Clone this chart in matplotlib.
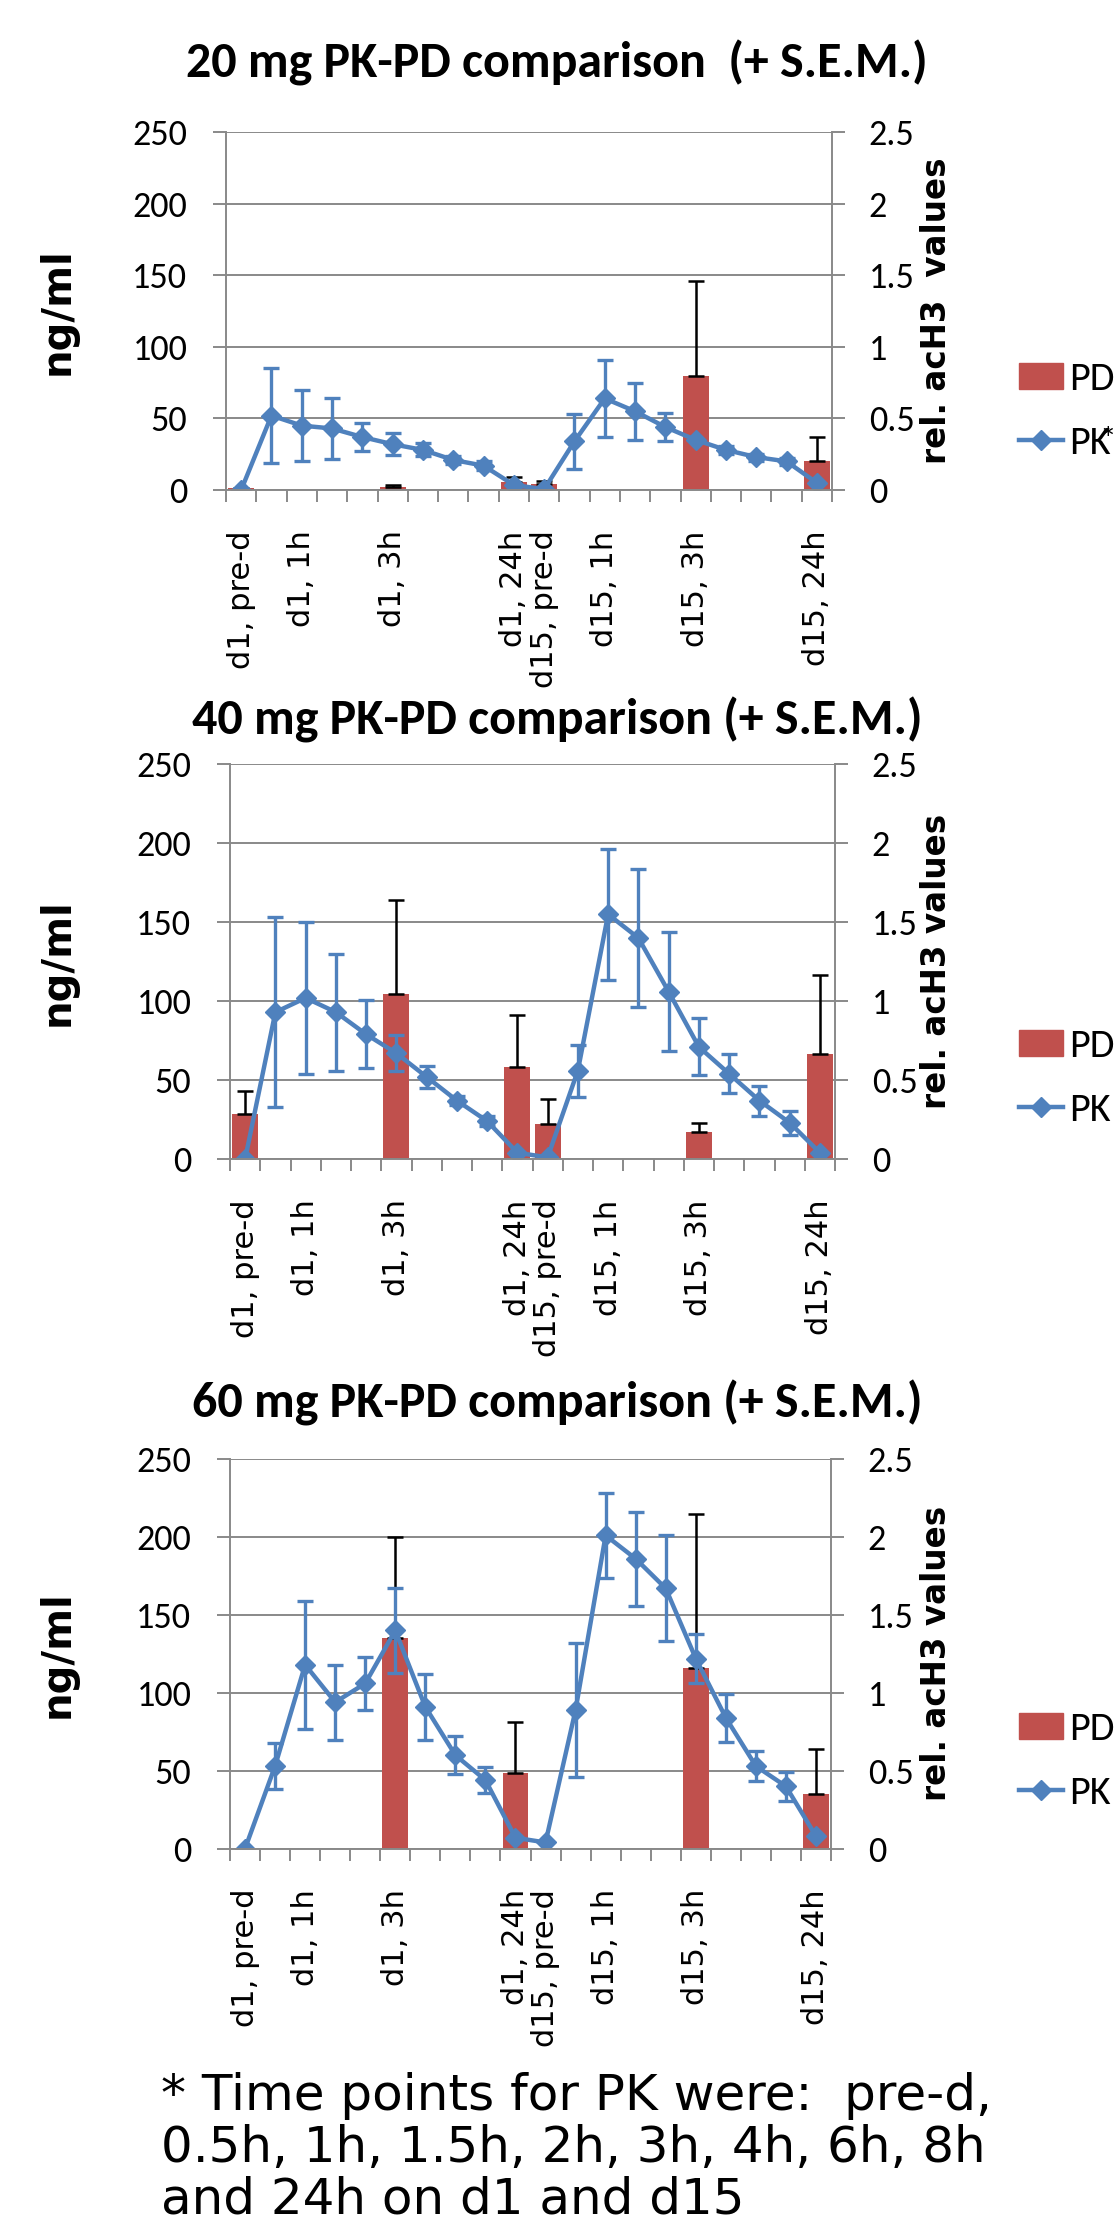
import numpy as np
import matplotlib
matplotlib.use('Agg')
import matplotlib.pyplot as plt
from matplotlib.lines import Line2D
from matplotlib.patches import Patch

# ================= data =================
n_cat = 20
label_pos = [0, 2, 5, 9, 10, 12, 15, 19]
x_labels = ["d1, pre-d", "d1, 1h", "d1, 3h", "d1, 24h",
            "d15, pre-d", "d15, 1h", "d15, 3h", "d15, 24h"]

pd_pos = [0, 5, 9, 10, 15, 19]

# PK (ng/ml) mean and S.E.M.
pk_20 = [0, 52, 45, 43, 37, 32, 28, 21, 17, 3.5, 0.5, 34, 64, 55, 44, 35, 28, 23, 20, 5]
pk_20_sem = [np.nan, 33, 25, 21, 10, 7.5, 4.5, 3, 3, np.nan, np.nan, 19, 27, 20, 10, np.nan, 2.5, 2.5, 2.5, np.nan]
pk_40 = [0, 93, 102, 93, 79, 67, 52, 37, 24, 4, 1, 56, 155, 140, 106, 71, 54, 37, 23, 4]
pk_40_sem = [np.nan, 60, 48, 37, 21.5, 11.5, 7, 3, 3, np.nan, np.nan, 16.5, 41.5, 43.5, 37.6, 18, 12.5, 9.5, 7.7, np.nan]
pk_60 = [0, 53, 118, 94, 106, 140, 91, 60, 44, 7, 4, 89, 201, 186, 167, 122, 84, 53, 40, 8]
pk_60_sem = [np.nan, 15, 41, 24, 17, 27.5, 21, 12, 8.3, np.nan, np.nan, 43, 27.5, 30, 34, 15.7, 15.3, 9.6, 9.4, np.nan]

# PD (rel. acH3 values) mean and + S.E.M.
pd_20 = [0.012, 0.023, 0.054, 0.04, 0.80, 0.20]
pd_20_sem = [np.nan, 0.012, 0.04, 0.023, 0.66, 0.17]
pd_40 = [0.285, 1.044, 0.58, 0.22, 0.17, 0.665]
pd_40_sem = [0.145, 0.595, 0.33, 0.16, 0.06, 0.50]
pd_60 = [np.nan, 1.35, 0.483, np.nan, 1.16, 0.35]
pd_60_sem = [np.nan, 0.65, 0.33, np.nan, 0.99, 0.29]

titles = ["20 mg PK-PD comparison  (+ S.E.M.)",
          "40 mg PK-PD comparison (+ S.E.M.)",
          "60 mg PK-PD comparison (+ S.E.M.)"]
right_labels = ["rel. acH3  values", "rel. acH3 values", "rel. acH3 values"]
pk_labels = ["PK", "PK", "PK"]
footnote = ["* Time points for PK were:  pre-d,",
            "0.5h, 1h, 1.5h, 2h, 3h, 4h, 6h, 8h",
            "and 24h on d1 and d15"]

# ================= style =================
W, H = 1117, 2234
RED = '#C0504D'
BLUE = '#4F81BD'
GRAY = '#898989'
NARROW = ['Carlito', 'DejaVu Sans']
TITLE_FONT = ['Carlito', 'Open Sans', 'DejaVu Sans']
SANS = ['DejaVu Sans']

fig = plt.figure(figsize=(W / 100, H / 100), dpi=100)


def rect(l, r, top, bottom):
    return [l / W, 1 - bottom / H, (r - l) / W, (bottom - top) / H]


def panel(box, pk, pk_sem, pd, pd_sem, title, title_y, rlabel, pk_label, leg_y):
    l, r, top, bottom = box
    ax = fig.add_axes(rect(l, r, top, bottom))
    ax2 = ax.twinx()
    # PK line above the PD bars
    ax.set_zorder(3)
    ax2.set_zorder(2)
    ax.patch.set_visible(False)

    x = np.arange(n_cat)
    ax2.bar(pd_pos, pd, width=0.86, color=RED, zorder=2)
    ax2.errorbar(pd_pos, pd, yerr=[np.zeros(len(pd)), pd_sem], fmt='none',
                 ecolor='black', elinewidth=1.8, capsize=6, capthick=1.8, zorder=3)
    ax.errorbar(x, pk, yerr=pk_sem, color=BLUE, lw=3.2, marker='D', ms=10.5,
                ecolor=BLUE, elinewidth=2.4, capsize=6, capthick=2.4)

    ax.set_xlim(-0.5, n_cat - 0.5)
    ax.set_ylim(0, 250)
    ax2.set_ylim(0, 2.5)
    ax.set_yticks(range(0, 251, 50))
    ax2.set_yticks([0, 0.5, 1, 1.5, 2, 2.5])
    ax2.set_yticklabels(['0', '0.5', '1', '1.5', '2', '2.5'])

    ax2.yaxis.grid(True, color=GRAY, lw=1.4)
    ax2.set_axisbelow(True)

    for s in ['top', 'right']:
        ax.spines[s].set_visible(False)
    for s in ['top', 'left', 'bottom']:
        ax2.spines[s].set_visible(False)
    for sp in [ax.spines['left'], ax.spines['bottom'], ax2.spines['right']]:
        sp.set_color(GRAY)
        sp.set_linewidth(1.4)

    ax.set_xticks(label_pos)
    ax.set_xticklabels(x_labels, rotation=90, va='top', ha='center',
                       family=SANS, fontsize=22)
    ax.set_xticks(np.arange(-0.5, n_cat, 1), minor=True)
    ax.tick_params(axis='x', which='major', length=0, pad=29)
    ax.tick_params(axis='x', which='minor', length=8.6, width=1.4, color=GRAY)
    ax.tick_params(axis='y', direction='out', length=9.4, width=1.4, color=GRAY,
                   pad=18.5, labelsize=26, labelfontfamily=NARROW)
    ax2.tick_params(axis='y', direction='out', length=9.4, width=1.4, color=GRAY,
                    pad=17, labelsize=26, labelfontfamily=NARROW)

    fig.text(557 / W, 1 - title_y / H, title, ha='center', va='center',
             family=TITLE_FONT, fontweight='bold', fontsize=36)
    mid = 1 - (top + bottom) / 2 / H
    fig.text(58 / W, mid, 'ng/ml', rotation=90, ha='center', va='center',
             family=SANS, fontweight='bold', fontsize=29)
    fig.text(937 / W, mid, rlabel, rotation=90, ha='center', va='center',
             family=SANS, fontweight='bold', fontsize=23.5)

    handles = [Patch(color=RED),
               Line2D([], [], color=BLUE, lw=3.2, marker='D', ms=10.5)]
    ax.legend(handles, ['PD', pk_label], loc='center left',
              bbox_to_anchor=(1019 / W, 1 - leg_y / H), bbox_transform=fig.transFigure,
              frameon=False, prop={'family': NARROW, 'size': 29},
              handlelength=1.1, handleheight=0.62, handletextpad=0.15,
              labelspacing=0.7, borderpad=0, borderaxespad=0)


panel((226, 832, 132.3, 490), pk_20, pk_20_sem, pd_20, pd_20_sem,
      titles[0], 63, right_labels[0], pk_labels[0], 411)
panel((230, 835, 764.3, 1159), pk_40, pk_40_sem, pd_40, pd_40_sem,
      titles[1], 720, right_labels[1], pk_labels[1], 1078)
panel((230, 831, 1459, 1848.7), pk_60, pk_60_sem, pd_60, pd_60_sem,
      titles[2], 1403, right_labels[2], pk_labels[2], 1761)

# asterisk tucked against the "PK" of the first legend
fig.text(1108 / W, 1 - 440 / H, '*', ha='center', va='center',
         family=NARROW, fontsize=24)

for i, line in enumerate(footnote):
    fig.text(161 / W, 1 - (2110 + 52 * i) / H, line, ha='left', va='baseline',
             family=SANS, fontsize=36)

fig.savefig('out.png', dpi=100)
